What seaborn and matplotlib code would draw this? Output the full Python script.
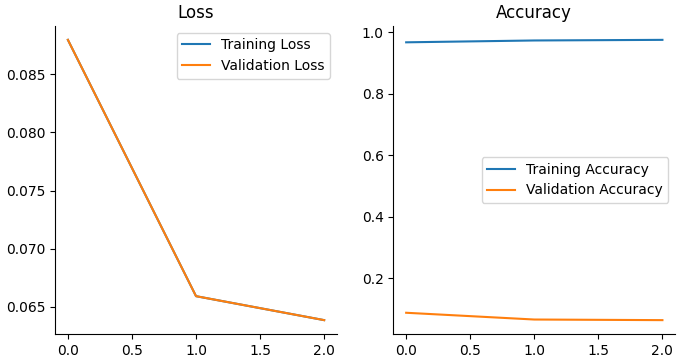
import numpy as np
import pandas as pd
import matplotlib
matplotlib.use('Agg')
import matplotlib.pyplot as plt
import seaborn as sns

# Training history values
epochs = [0, 1, 2]
train_loss = [0.08795, 0.06592, 0.06386]
val_loss = [0.08795, 0.06592, 0.06386]
train_acc = [0.968, 0.974, 0.976]
val_acc = [0.088, 0.066, 0.064]

# keep matplotlib's default look (black text, no grid)
plt.rcParams['font.family'] = ['DejaVu Sans']

fig, axes = plt.subplots(1, 2, figsize=(6.8, 3.64), dpi=100)

ax = axes[0]
sns.lineplot(x=epochs, y=train_loss, ax=ax, label='Training Loss', color='#1f77b4')
sns.lineplot(x=epochs, y=val_loss, ax=ax, label='Validation Loss', color='#ff7f0e')
ax.set_title('Loss')
ax.legend(loc='upper right')

ax = axes[1]
sns.lineplot(x=epochs, y=train_acc, ax=ax, label='Training Accuracy', color='#1f77b4')
sns.lineplot(x=epochs, y=val_acc, ax=ax, label='Validation Accuracy', color='#ff7f0e')
ax.set_title('Accuracy')
ax.legend(loc='center right')

sns.despine()
plt.subplots_adjust(left=0.081, right=0.993, top=0.929, bottom=0.082, wspace=0.2)
plt.savefig('out.png')
